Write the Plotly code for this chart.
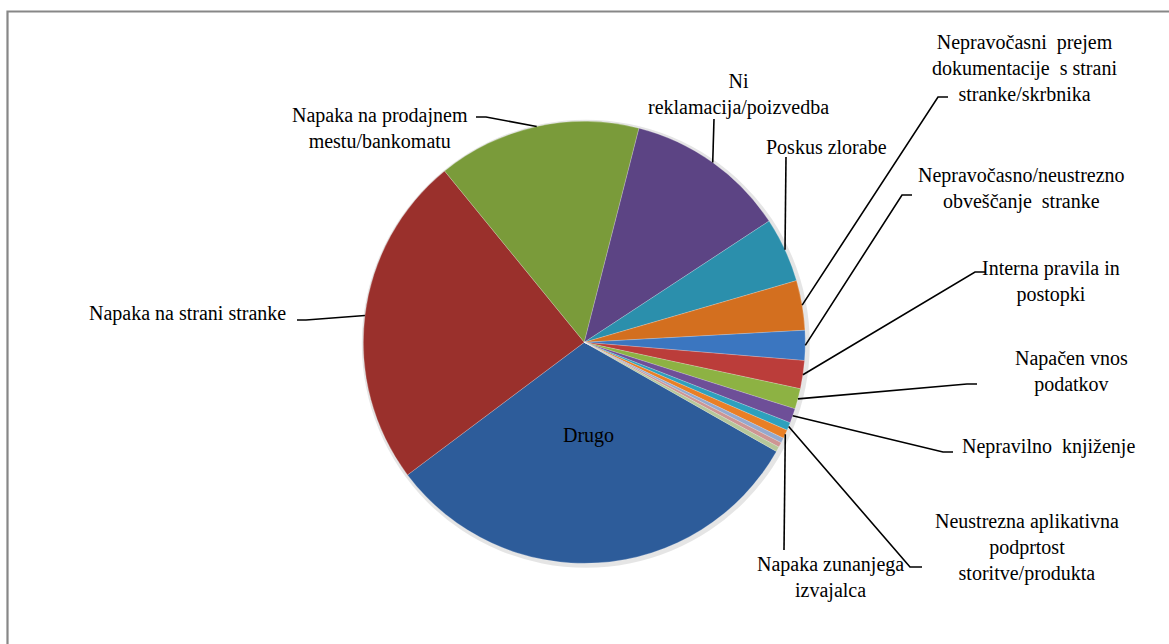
import plotly.graph_objects as go
import math

# Complaint categories (clockwise from the "Drugo" slice)
categories = [
    "Drugo",
    "Napaka na strani stranke",
    "Napaka na prodajnem mestu/bankomatu",
    "Ni reklamacija/poizvedba",
    "Poskus zlorabe",
    "Nepravočasni prejem dokumentacije s strani stranke/skrbnika",
    "Nepravočasno/neustrezno obveščanje stranke",
    "Interna pravila in postopki",
    "Napačen vnos podatkov",
    "Nepravilno knjiženje",
    "Neustrezna aplikativna podprtost storitve/produkta",
    "Napaka zunanjega izvajalca",
    "Ostalo 1",
    "Ostalo 2",
    "Ostalo 3",
]

# Share of complaints (%)
shares = [31.6, 24.4, 14.9, 11.8, 4.75, 3.64, 2.19, 2.06, 1.5, 1.06, 0.58, 0.64, 0.36, 0.36, 0.36]

# Label text drawn next to each slice ("" = no label)
label_text = [
    "Drugo",
    "Napaka na strani stranke",
    "Napaka na prodajnem<br>mestu/bankomatu",
    "Ni<br>reklamacija/poizvedba",
    "Poskus zlorabe",
    "Nepravočasni  prejem<br>dokumentacije  s strani<br>stranke/skrbnika",
    "Nepravočasno/neustrezno<br>obveščanje  stranke",
    "Interna pravila in<br>postopki",
    "Napačen vnos<br>podatkov",
    "Nepravilno  knjiženje",
    "Neustrezna aplikativna<br>podprtost<br>storitve/produkta",
    "Napaka zunanjega<br>izvajalca",
    "", "", "",
]

slice_colors = [
    "#2D5C9A", "#9A302C", "#7A9B3A", "#5C4484", "#2B8FAC", "#D36F1F",
    "#3B76C0", "#BB3D3A", "#8DB243", "#6E4F98", "#2EA0BD", "#E97F26",
    "#93A9CF", "#CE9593", "#B6C79A",
]

W, H = 1169, 644
CX, CY, R = 584.3, 342.3, 221.0
START = 119.6  # degrees clockwise from 12 o'clock
SERIF = "Liberation Serif"

# Label centres (px) and leader paths: (label-side end, elbow); None = no leader
label_pos = [
    (588, 435), (187, 313), (380, 128), (738, 95), (826, 147), (1024, 68),
    (1021, 189), (1051, 281), (1071, 371), (1048, 446), (1027, 547), (830, 577),
    None, None, None,
]
leader_ends = [
    None,
    ((297, 320), (306, 320)),
    ((476, 117), (486, 117)),
    ((714, 119), (714, 119)),
    ((786, 157), (786, 157)),
    ((948, 97), (938, 97)),
    ((912, 195), (902, 195)),
    ((985, 272), (975, 272)),
    ((977, 384), (967, 384)),
    ((953, 452), (943, 452)),
    ((922, 567), (910, 567)),
    ((784, 550), (784, 550)),
    None, None, None,
]


def px(x):
    return x / W


def py(y):
    return 1 - y / H


fig = go.Figure()

# soft drop shadow behind the pie
SH = 3.0
fig.add_trace(go.Pie(
    values=[1], labels=[""], sort=False, textinfo="none", hoverinfo="skip",
    marker=dict(colors=["rgba(0,0,0,0.10)"], line=dict(width=0)),
    domain=dict(x=[px(CX - R - SH + 1.5), px(CX + R + SH + 1.5)],
                y=[py(CY + R + SH + 1.5), py(CY - R - SH + 1.5)]),
    showlegend=False,
))

fig.add_trace(go.Pie(
    labels=categories,
    values=shares,
    sort=False,
    direction="clockwise",
    rotation=START,
    marker=dict(colors=slice_colors, line=dict(color="rgba(255,255,255,0.35)", width=0.6)),
    textinfo="none",
    hoverinfo="label+percent",
    domain=dict(x=[px(CX - R), px(CX + R)], y=[py(CY + R), py(CY - R)]),
    showlegend=False,
))

total = sum(shares)
cum = 0.0
shapes = []
annotations = []
font = dict(family=SERIF, size=20, color="#000000")
for v, txt, pos, leader in zip(shares, label_text, label_pos, leader_ends):
    mid = START + (cum + v / 2) / total * 360.0
    cum += v
    if pos is not None and txt:
        annotations.append(dict(
            x=px(pos[0]), y=py(pos[1]), xref="paper", yref="paper",
            text=txt, showarrow=False, font=font, align="center",
            xanchor="center", yanchor="middle",
        ))
    if leader is not None:
        a = math.radians(mid)
        rx = CX + R * math.sin(a)
        ry = CY - R * math.cos(a)
        (sx, sy), (ex, ey) = leader
        path = f"M {px(sx)},{py(sy)} L {px(ex)},{py(ey)} L {px(rx)},{py(ry)}"
        shapes.append(dict(type="path", path=path, xref="paper", yref="paper",
                           line=dict(color="#000000", width=1.6)))

# chart frame (top and left edges visible)
shapes.append(dict(type="rect", xref="paper", yref="paper",
                   x0=px(7.5), y0=py(660), x1=px(1185), y1=py(11.5),
                   line=dict(color="#878787", width=2.2)))

fig.update_layout(
    width=W, height=H,
    margin=dict(l=0, r=0, t=0, b=0),
    font=dict(family=SERIF, size=20, color="#000000"),
    paper_bgcolor="#FFFFFF",
    plot_bgcolor="#FFFFFF",
    shapes=shapes,
    annotations=annotations,
)

fig.write_html("out.html")
